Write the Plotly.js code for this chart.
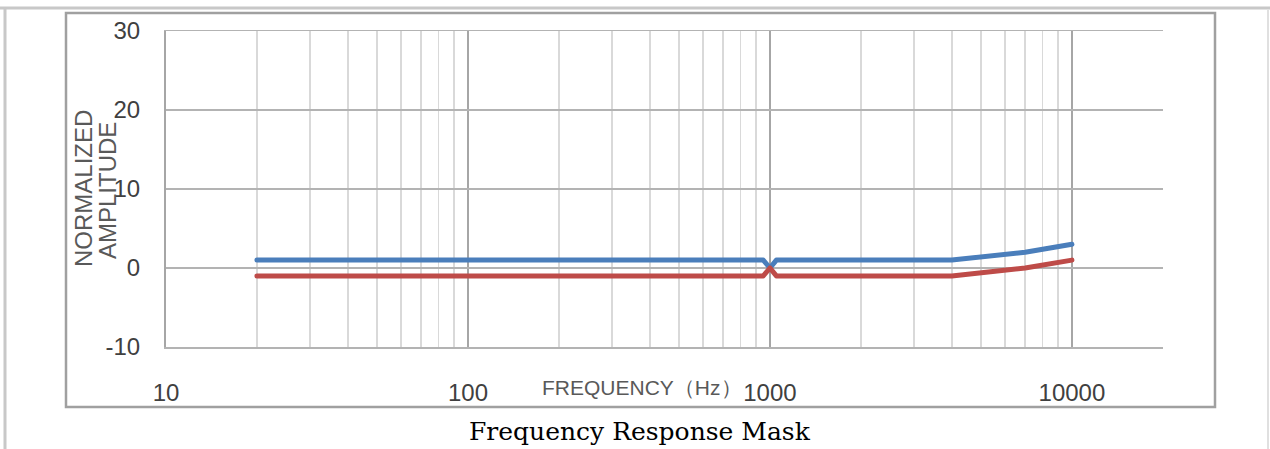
<!DOCTYPE html>
<html>
<head>
<meta charset="utf-8">
<script src="https://cdn.plot.ly/plotly-3.0.1.min.js"></script>
<style>
  html, body { margin: 0; padding: 0; background: #fff; }
  #chart { width: 1270px; height: 449px; }
  path.js-line { stroke-linecap: round !important; stroke-linejoin: round !important; }
</style>
</head>
<body>
<div id="chart"></div>
<script>
// ---- data ----
const freqHz     = [20, 950, 1000, 1050, 4000, 7000, 10000];
const upperMask  = [1, 1, 0, 1, 1, 2, 3];
const lowerMask  = [-1, -1, 0, -1, -1, 0, 1];

const xMajorTicks = [10, 100, 1000, 10000];
const xMajorLabels = ['10', '100', '1000', '10000'];
const xMinorTicks = [20, 30, 40, 50, 60, 70, 80, 90,
                     200, 300, 400, 500, 600, 700, 800, 900,
                     2000, 3000, 4000, 5000, 6000, 7000, 8000, 9000, 20000];
const yTicks = [-10, 0, 10, 20, 30];
const yLabels = ['-10', '0', '10', '20', '30'];

const chartTitle = 'Frequency Response Mask';
const xTitle = 'FREQUENCY（Hz）';
const yTitleLines = ['NORMALIZED', 'AMPLITUDE'];

// ---- layout geometry (pixels) ----
const W = 1270, H = 449;
const L = 166, R = 1163, T = 31, B = 347;
const pw = R - L, ph = B - T;
const px = x => (x - L) / pw;
const py = y => (B - y) / ph;

const traces = [
  { x: freqHz, y: upperMask, type: 'scatter', mode: 'lines',
    line: { color: '#4a7ebb', width: 5, shape: 'linear' },
    hoverinfo: 'skip' },
  { x: freqHz, y: lowerMask, type: 'scatter', mode: 'lines',
    line: { color: '#be4b48', width: 5, shape: 'linear' },
    hoverinfo: 'skip' }
];

const tickFont = { family: 'Liberation Sans, Arial, sans-serif', size: 24, color: '#404040' };
const axTitleFont = { family: 'Liberation Sans, Arial, sans-serif', size: 21, color: '#595959' };

const layout = {
  width: W, height: H,
  margin: { l: L, r: W - R, t: T, b: H - B, pad: 0 },
  paper_bgcolor: '#ffffff',
  plot_bgcolor: '#ffffff',
  showlegend: false,
  xaxis: {
    type: 'log',
    range: [1, Math.log10(20000) + 0.0005],
    tickmode: 'array',
    tickvals: xMajorTicks,
    ticktext: xMajorLabels,
    ticks: '',
    ticklabelstandoff: 24,
    tickfont: tickFont,
    showgrid: true,
    gridcolor: '#a6a6a6',
    gridwidth: 1.5,
    minor: { tickmode: 'array', tickvals: xMinorTicks, showgrid: true,
             gridcolor: '#d9d9d9', gridwidth: 1.5, ticks: '' },
    showline: true,
    mirror: true,
    linecolor: '#b3b3b3',
    linewidth: 1.5,
    zeroline: false,
    fixedrange: true
  },
  yaxis: {
    range: [-10, 30],
    tickmode: 'array',
    tickvals: yTicks,
    ticktext: yLabels,
    ticks: '',
    ticklabelstandoff: 19,
    tickfont: tickFont,
    showgrid: true,
    gridcolor: '#b3b3b3',
    gridwidth: 1.5,
    zeroline: false,
    showline: true,
    linecolor: '#a6a6a6',
    linewidth: 2,
    fixedrange: true
  },
  shapes: [
    // page borders
    { type: 'line', xref: 'paper', yref: 'paper', x0: px(0), x1: px(W), y0: py(8), y1: py(8),
      line: { color: '#c8c8c8', width: 3 }, layer: 'below' },
    { type: 'line', xref: 'paper', yref: 'paper', x0: px(5), x1: px(5), y0: py(8), y1: py(H),
      line: { color: '#c8c8c8', width: 3 }, layer: 'below' },
    { type: 'line', xref: 'paper', yref: 'paper', x0: px(1268), x1: px(1268), y0: py(10), y1: py(H),
      line: { color: '#e0e0e0', width: 2 }, layer: 'below' },
    // chart frame
    { type: 'rect', xref: 'paper', yref: 'paper', x0: px(66), x1: px(1215), y0: py(13), y1: py(407),
      line: { color: '#a0a0a0', width: 2.5 }, fillcolor: 'rgba(0,0,0,0)', layer: 'below' }
  ],
  annotations: [
    { text: xTitle, xref: 'paper', yref: 'paper', x: px(642), y: py(387),
      xanchor: 'center', yanchor: 'middle', showarrow: false, font: axTitleFont },
    { text: yTitleLines[0], xref: 'paper', yref: 'paper', x: px(83), y: py(189),
      xanchor: 'center', yanchor: 'middle', textangle: -90, showarrow: false,
      font: { family: axTitleFont.family, size: 24, color: '#595959' } },
    { text: yTitleLines[1], xref: 'paper', yref: 'paper', x: px(107), y: py(191),
      xanchor: 'center', yanchor: 'middle', textangle: -90, showarrow: false,
      font: { family: axTitleFont.family, size: 24, color: '#595959' } },
    { text: chartTitle, xref: 'paper', yref: 'paper', x: px(640), y: py(431),
      xanchor: 'center', yanchor: 'middle', showarrow: false,
      font: { family: 'DejaVu Serif, Liberation Serif, serif', size: 25, color: '#000000' } }
  ]
};

Plotly.newPlot('chart', traces, layout, { displayModeBar: false, staticPlot: true });
</script>
</body>
</html>
